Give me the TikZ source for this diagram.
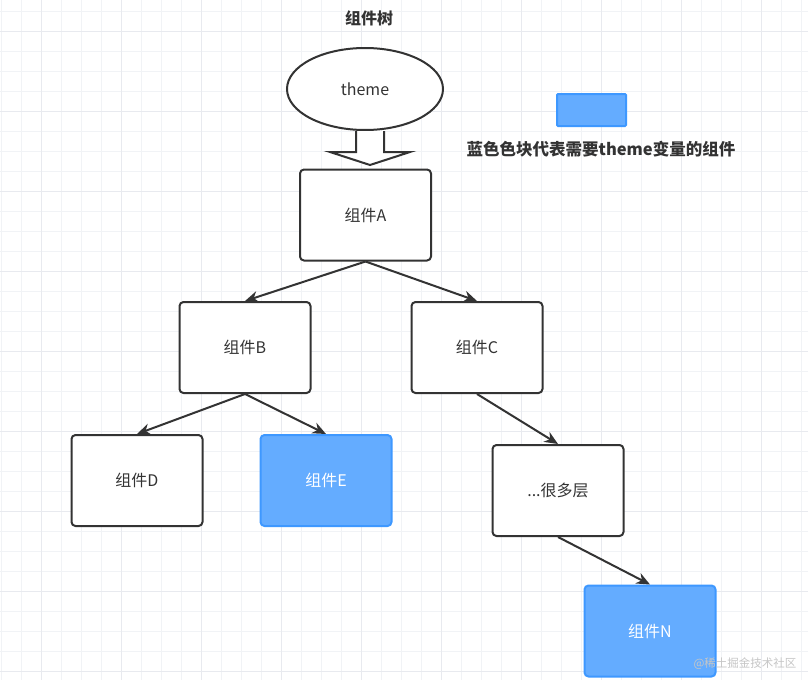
\documentclass[tikz,border=0pt]{standalone}
\usepackage{fontspec}
\newfontfamily\cjk{Noto Sans CJK SC}
\usetikzlibrary{arrows.meta,shapes.geometric}
\definecolor{linegray}{HTML}{333333}
\definecolor{bluefill}{HTML}{64ACFF}
\definecolor{blueline}{HTML}{3E98FF}
\definecolor{gridminor}{HTML}{F1F3F6}
\definecolor{gridmajor}{HTML}{E8EAEF}
\definecolor{markgray}{HTML}{C6C6C6}

\begin{document}
\begin{tikzpicture}[x=1pt,y=-1pt,>={Stealth[length=13.5pt,width=11.5pt]},
			thick,main node/.style = {rectangle,rounded corners=4pt,draw=linegray,line width=2pt,fill=white,
			minimum width=131pt,minimum height=91pt,font=\cjk\fontsize{16}{19}\selectfont,text=linegray},
			blue node/.style = {main node,draw=blueline,fill=bluefill,text=white},
			grid line/.style = {gridminor,line width=0.7pt},
			major line/.style = {gridmajor,line width=1pt}]
			
			\useasboundingbox[fill=white] (0,0) rectangle (808,680);
			\foreach \x in {1,21,...,801} \draw[grid line] (\x,0) -- (\x,680);
			\foreach \y in {11.5,31.5,...,671.5} \draw[grid line] (0,\y) -- (808,\y);
			\foreach \x in {41,121,...,761} \draw[major line] (\x,0) -- (\x,680);
			\foreach \y in {31.5,111.5,...,671.5} \draw[major line] (0,\y) -- (808,\y);
			
			\node[font=\cjk\bfseries\fontsize{16}{19}\selectfont,text=linegray] (9) at (369,18) {组件树};
			\node[ellipse,draw=linegray,line width=2pt,fill=white,minimum width=156pt,minimum height=82pt,
			font=\cjk\fontsize{16}{19}\selectfont,text=linegray] (1) at (365,89) {theme};
			\draw[draw=linegray,line width=2pt,fill=white] (1.south) ++(-9,0) -- ++(0,21) -- ++(-26,0)
			-- ++(40,13) -- ++(40,-13) -- ++(-26,0) -- ++(0,-21);
			
			\node[main node] (2) at (365.5,215) {组件A};
			\node[main node] (3) at (245,347.5) {组件B};
			\node[main node] (4) at (477,347.5) {组件C};
			\node[main node] (5) at (137,480.5) {组件D};
			\node[blue node] (6) at (326,480.5) {组件E};
			\node[main node] (7) at (558,490.5) {...很多层};
			\node[blue node] (8) at (650,631) {组件N};
			
			\node[blue node,minimum width=69pt,minimum height=32pt,rounded corners=1pt] (10) at (591.5,110) {};
			\node[font=\cjk\bfseries\fontsize{16.5}{19}\selectfont,text=linegray] (11) at (601,149) {蓝色色块代表需要theme变量的组件};
			
			\path[->,color=linegray,line width=2pt] (2.south) edge (3.north)
			(2.south) edge (4.north)
			(3.south) edge (5.north)
			(3.south) edge (6.north)
			(4.south) edge (7.north)
			(7.south) edge (8.north);
			
			\node[font=\cjk\fontsize{11.5}{13}\selectfont,text=markgray] (12) at (745,664) {@稀土掘金技术社区};
			
			\end{tikzpicture}
\end{document}
